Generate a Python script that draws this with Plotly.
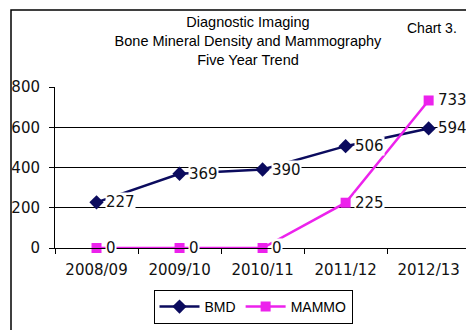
import plotly.graph_objects as go

years = ["2008/09", "2009/10", "2010/11", "2011/12", "2012/13"]
bmd = [227, 369, 390, 506, 594]
mammo = [0, 0, 0, 225, 733]
y_ticks = [0, 200, 400, 600, 800]

W, H = 466, 330
L, R, T, B = 55, 0, 87, 82
pw = W - L - R
ph = H - T - B

def px_x(px):
    return (px - L) / pw

def px_y(py):
    return (H - B - py) / ph

NAVY = "#0b0b5e"
MAG = "#ec22ec"
NUMFONT = "DejaVu Sans"
TXTFONT = "Liberation Sans, Arial"

fig = go.Figure()
fig.add_trace(go.Scatter(
    x=years, y=bmd, name="BMD", mode="lines+markers",
    line=dict(color=NAVY, width=2.5),
    marker=dict(symbol="diamond", size=11, color=NAVY),
    cliponaxis=False,
))
fig.add_trace(go.Scatter(
    x=years, y=mammo, name="MAMMO", mode="lines+markers",
    line=dict(color=MAG, width=2.5),
    marker=dict(symbol="square", size=10, color=MAG),
    cliponaxis=False,
))

annotations = []
for series in (bmd, mammo):
    for cat, v in zip(years, series):
        annotations.append(dict(
            x=cat, y=v, xref="x", yref="y", text=str(v), showarrow=False,
            xanchor="left", yanchor="middle", xshift=8,
            bgcolor="white", borderpad=0,
            font=dict(family=NUMFONT, size=15, color="#111111"),
        ))

annotations.append(dict(
    x=px_x(405), y=px_y(18), xref="paper", yref="paper", text="Chart 3.",
    showarrow=False, xanchor="left", yanchor="top",
    font=dict(family=TXTFONT, size=14, color="black"),
))

fig.update_layout(
    width=W, height=H,
    margin=dict(l=L, r=R, t=T, b=B),
    paper_bgcolor="white", plot_bgcolor="white",
    title=dict(
        text="Diagnostic Imaging<br>Bone Mineral Density and Mammography<br>Five Year Trend",
        x=248 / W, xref="container", xanchor="center",
        y=1 - 27 / H, yref="container", yanchor="top",
        font=dict(family=TXTFONT, size=14.5, color="black"),
    ),
    showlegend=True,
    legend=dict(
        orientation="h", xref="container", yref="container",
        x=253 / W, xanchor="center", y=1 - 307 / H, yanchor="middle",
        bordercolor="black", borderwidth=1, bgcolor="white",
        font=dict(family=TXTFONT, size=14, color="black"),
        itemwidth=40, tracegroupgap=0,
    ),
    annotations=annotations,
    shapes=[dict(
        type="rect", xref="paper", yref="paper",
        x0=px_x(11), x1=px_x(480), y0=px_y(345), y1=px_y(10),
        line=dict(color="black", width=1.5), fillcolor="rgba(0,0,0,0)",
        layer="below",
    )],
)

fig.update_xaxes(
    type="category", range=[-0.5, 4.45],
    showline=True, linecolor="black", linewidth=1,
    showgrid=False, zeroline=False,
    ticks="outside", tickson="boundaries", ticklen=5, tickcolor="black",
    ticklabelstandoff=8,
    tickfont=dict(family=NUMFONT, size=15, color="#111111"),
)
fig.update_yaxes(
    range=[0, 800], tickvals=y_ticks,
    showline=True, linecolor="black", linewidth=1,
    showgrid=True, gridcolor="black", gridwidth=1,
    zeroline=False,
    ticks="outside", ticklen=5, tickcolor="black",
    ticklabelstandoff=6,
    tickfont=dict(family=NUMFONT, size=15, color="#111111"),
)

fig.write_html("out.html")
